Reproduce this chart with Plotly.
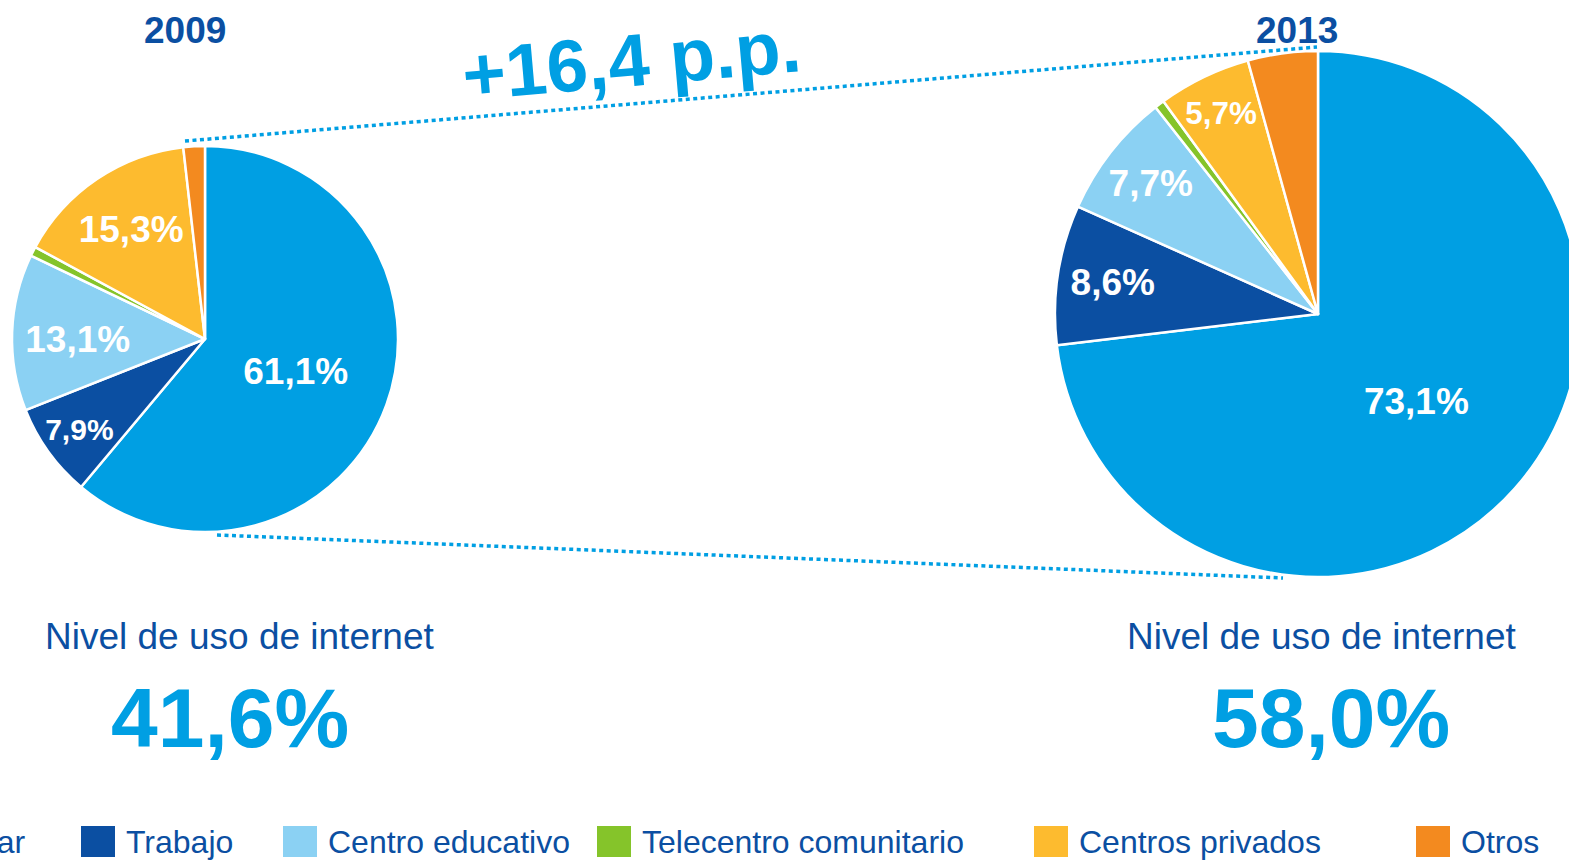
import plotly.graph_objects as go

# ---------------- data ----------------
categories = ["Hogar", "Trabajo", "Centro educativo", "Telecentro comunitario",
              "Centros privados", "Otros"]
values_2009 = [61.1, 7.9, 13.1, 0.8, 15.3, 1.8]
values_2013 = [73.1, 8.6, 7.7, 0.6, 5.7, 4.3]
years = ["2009", "2013"]
nivel_uso = ["41,6%", "58,0%"]
diferencia = "+16,4 p.p."
subtitulo = "Nivel de uso de internet"
unlabeled = ["Telecentro comunitario", "Otros"]

colors = ["#009FE3", "#0B4FA2", "#8BD1F3", "#85C42A", "#FDBB2F", "#F38A1F"]
DARK = "#0B4FA2"
LIGHT = "#009FE3"
FONT = "Liberation Sans, Arial, sans-serif"

# canvas is a bit wider than the window so the right pie can run off the edge
W, H = 1590, 861


def px(x):
    return x / W


def py(y):
    return 1 - y / H


def fmt_labels(vals):
    out = []
    for c, v in zip(categories, vals):
        out.append("" if c in unlabeled else f"{v:.1f}".replace(".", ",") + "%")
    return out


fig = go.Figure()

pie_common = dict(
    labels=categories,
    sort=False,
    direction="clockwise",
    rotation=0,
    marker=dict(colors=colors, line=dict(color="white", width=2.5)),
    textinfo="text",
    textposition="inside",
    insidetextorientation="horizontal",
    insidetextfont=dict(family=FONT, size=37, color="white", weight="bold"),
    showlegend=False,
    hoverinfo="label+value",
)

fig.add_trace(go.Pie(values=values_2009, text=fmt_labels(values_2009),
                     domain=dict(x=[px(12), px(398)], y=[py(532), py(146)]),
                     **pie_common))
fig.add_trace(go.Pie(values=values_2013, text=fmt_labels(values_2013),
                     domain=dict(x=[px(1055), px(1581)], y=[py(577), py(51)]),
                     **pie_common))

annotations = []
shapes = []

# year titles
for yr, xc in zip(years, [185, 1297]):
    annotations.append(dict(text=f"<b>{yr}</b>", x=px(xc), y=py(30), xref="paper", yref="paper",
                            showarrow=False, xanchor="center", yanchor="middle",
                            font=dict(family=FONT, size=37, color=DARK)))

# +16,4 p.p.
annotations.append(dict(text=f"<b>{diferencia}</b>", x=px(631), y=py(61), xref="paper", yref="paper",
                        showarrow=False, xanchor="center", yanchor="middle", textangle=-5,
                        font=dict(family=FONT, size=74, color=LIGHT)))

# subtitles and big numbers
for val, xs, xn in zip(nivel_uso, [239, 1321], [230, 1331]):
    annotations.append(dict(text=subtitulo, x=px(xs), y=py(636), xref="paper", yref="paper",
                            showarrow=False, xanchor="center", yanchor="middle",
                            font=dict(family=FONT, size=37, color=DARK)))
    annotations.append(dict(text=f"<b>{val}</b>", x=px(xn), y=py(718), xref="paper", yref="paper",
                            showarrow=False, xanchor="center", yanchor="middle",
                            font=dict(family=FONT, size=84, color=LIGHT)))

# dotted connector lines
for (x0, y0, x1, y1) in [(185, 141, 1317, 47), (217, 535, 1283, 578)]:
    shapes.append(dict(type="line", xref="paper", yref="paper",
                       x0=px(x0), y0=py(y0), x1=px(x1), y1=py(y1),
                       line=dict(color=LIGHT, width=3.5, dash="4px,3.5px")))

# legend (manual, matching original spacing)
legend_sq_x = [-107, 81, 283, 597, 1034, 1416]
for cat, col, sx in zip(categories, colors, legend_sq_x):
    shapes.append(dict(type="rect", xref="paper", yref="paper",
                       x0=px(sx), x1=px(sx + 34), y0=py(857), y1=py(826),
                       fillcolor=col, line=dict(width=0)))
    annotations.append(dict(text=cat, x=px(sx + 43), y=py(842), xref="paper", yref="paper",
                            showarrow=False, xanchor="left", yanchor="middle",
                            font=dict(family=FONT, size=32, color=DARK)))

fig.update_layout(
    width=W, height=H,
    margin=dict(l=0, r=0, t=0, b=0),
    paper_bgcolor="white",
    plot_bgcolor="white",
    separators=",.",
    annotations=annotations,
    shapes=shapes,
)

fig.write_html(
    "out.html",
    config={"displayModeBar": False},
    post_script="document.body.style.margin='0';document.body.style.overflow='hidden';"
                "document.documentElement.style.overflow='hidden';",
)
